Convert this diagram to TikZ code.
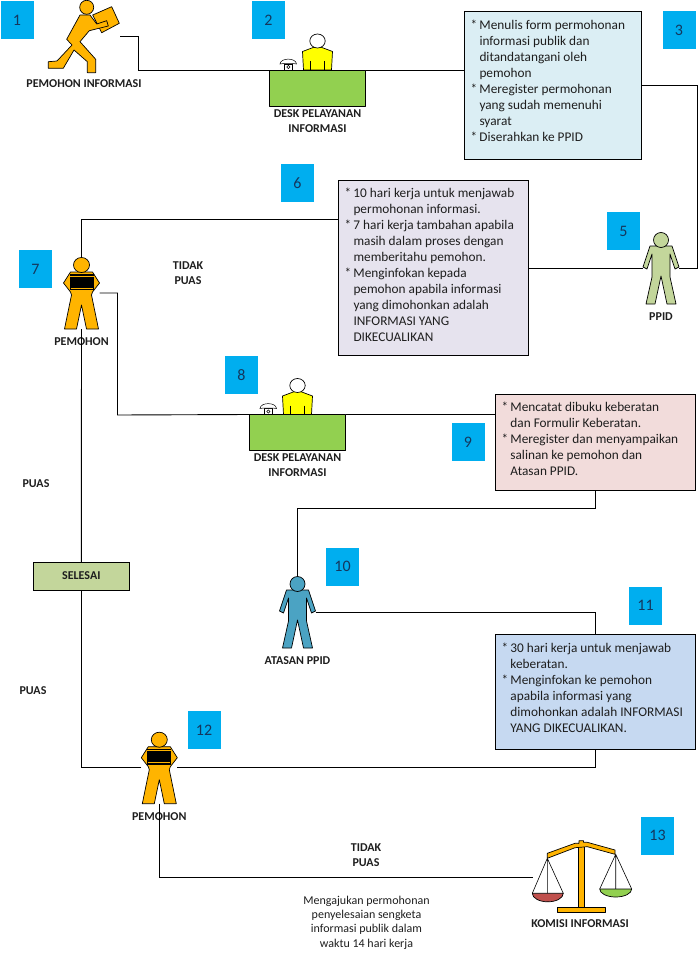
\documentclass[tikz,border=0pt]{standalone}
\usepackage{fontspec}
\setmainfont{Carlito}
\usetikzlibrary{positioning}
\definecolor{tag_fill}{HTML}{00AEEF}
\definecolor{tag_text}{HTML}{14375E}
\definecolor{body_text}{HTML}{1E1E1E}
\definecolor{gold_fill}{HTML}{FFB400}
\definecolor{desk_fill}{HTML}{92D050}
\definecolor{shirt_fill}{HTML}{FFFF00}
\definecolor{ppid_fill}{HTML}{C3D69B}
\definecolor{atasan_fill}{HTML}{4BA3C3}
\definecolor{box3_fill}{HTML}{DBEEF4}
\definecolor{box6_fill}{HTML}{E6E3EE}
\definecolor{box9_fill}{HTML}{F2DCDB}
\definecolor{box11_fill}{HTML}{C6D9F1}
\definecolor{selesai_fill}{HTML}{C3D69B}
\definecolor{pan_red}{HTML}{C0504D}
\begin{document}
\begin{tikzpicture}[
    x=1pt, y=-1pt,
    font=\fontsize{13.3}{16}\selectfont,
    text=body_text,
    link/.style={draw=black, line width=0.9pt},
    outline/.style={draw=black, line width=0.7pt, line join=round},
    tagbox/.style={fill=tag_fill, minimum width=33pt, minimum height=38pt, inner sep=0pt, text=tag_text, font=\fontsize{16}{16}\selectfont},
    infobox/.style={draw=black, line width=0.9pt, inner sep=0pt, outer sep=0pt},
    boxtext/.style={anchor=north west, inner sep=0pt, align=left},
    figure/.style={minimum width=36pt, minimum height=72pt, inner sep=0pt, outer sep=0pt},
    desk/.style={outline, fill=desk_fill, minimum width=96pt, minimum height=36pt, inner sep=0pt, outer sep=0pt},
    caption/.style={align=center, inner sep=0pt, font=\fontsize{12}{15}\selectfont\bfseries},
    note/.style={align=center, inner sep=0pt, font=\fontsize{12}{14.4}\selectfont}
]

\useasboundingbox (0,0) rectangle (698,960);

% --- Shapes used more than once, origin at the centre of the figure ---
\def\plainperson#1{
    \draw[outline, fill=#1] (-11,-22) -- (-18,-1) -- (-14,1) -- (-9,-14) -- (-9,9) -- (-15,36) -- (-6,36)
        -- (0,8) -- (6,36) -- (15,36) -- (9,9) -- (9,-14) -- (14,1) -- (18,-1) -- (11,-22) -- cycle;
    \draw[outline, fill=#1] (0,-28) circle (7.5);
}
\def\bookperson{
    \draw[outline, fill=gold_fill] (-11,-21) -- (-18,-10) -- (-11,-1) -- (-10,2) -- (-17,36) -- (-5,36)
        -- (0,12) -- (5,36) -- (17,36) -- (10,2) -- (11,-1) -- (18,-10) -- (11,-21) -- cycle;
    \draw[outline, fill=gold_fill] (0,-28) ellipse (8 and 7.5);
    \fill[black] (-12,-19) rectangle (12,-3);
    \draw[gold_fill, line width=0.6pt] (-12,-17) -- (12,-17) (-11,-5) -- (11,-5);
}
% origin at the middle of the desk top
\def\deskperson{
    \draw[outline, fill=shirt_fill] (-15,-18.5) -- (-3,-23) -- (3,-23) -- (15,-18.5) -- (14,0) -- (-14,0) -- cycle;
    \draw[black, line width=0.6pt] (-7.5,-9) -- (-7.5,0) (6.5,-9) -- (6.5,0);
    \draw[outline, fill=white] (0,-29) ellipse (7.7 and 7);
    % telephone
    \draw[black, line width=0.5pt, fill=white] (-33.5,-6) rectangle (-25,0);
    \draw[black, line width=0.5pt] (-29.2,-3) circle (1.6);
    \draw[black, line width=0.5pt, fill=white] (-37.5,-6) .. controls (-37,-12.5) and (-21.5,-12.5) .. (-21,-6) -- (-25,-6.5) -- (-33.5,-6.5) -- cycle;
}

% --- Numbered tags ---
\node[tagbox] (tag1) at (17,20) {1};
\node[tagbox] (tag2) at (268.5,20) {2};
\node[tagbox] (tag3) at (679,30.5) {3};
\node[tagbox] (tag5) at (623.5,231) {5};
\node[tagbox] (tag6) at (297.5,183) {6};
\node[tagbox] (tag7) at (35.5,269) {7};
\node[tagbox] (tag8) at (241.5,375) {8};
\node[tagbox] (tag9) at (468,442) {9};
\node[tagbox] (tag10) at (342.5,566.5) {10};
\node[tagbox] (tag11) at (645.5,605.5) {11};
\node[tagbox] (tag12) at (204,730) {12};
\node[tagbox] (tag13) at (657.5,835.5) {13};

% --- Applicant with the parcel ---
\node[figure, minimum width=72pt, minimum height=73pt] (pemohon1) at (84,36) {};
\draw[outline, fill=gold_fill] (92.7,15) -- (111.7,6.7) -- (119.3,23.3) -- (101.7,32.7) -- cycle;
\draw[outline, fill=gold_fill] (80,15) -- (66.7,39.3) -- (72,45) -- (57,61) -- (48.3,61.7) -- (48.3,68.3)
    -- (63.3,68.3) -- (74,50) -- (87.3,61.7) -- (87.3,72.7) -- (95.7,72.7) -- (95.7,59.3) -- (80,41.7)
    -- (89.3,30.7) -- (108.3,26) -- (106.7,20.7) -- (96.7,24) -- (90,15) -- cycle;
\draw[outline, fill=gold_fill] (86.7,7.3) circle (7);
\node[caption] (cap1) at (84,84) {PEMOHON INFORMASI};

% --- Service desks ---
\node[desk] (desk2) at (317.5,88) {};
\begin{scope}[shift={(desk2.north)}]
    \deskperson
\end{scope}
\node[caption, below=3pt of desk2] (cap2) {DESK PELAYANAN\\INFORMASI};

\node[desk] (desk8) at (297.5,432.5) {};
\begin{scope}[shift={(desk8.north)}]
    \deskperson
\end{scope}
\node[caption, below=3pt of desk8] (cap8) {DESK PELAYANAN\\INFORMASI};

% --- People ---
\node[figure] (ppid) at (661,268) {};
\begin{scope}[shift={(ppid.center)}]
    \plainperson{ppid_fill}
\end{scope}
\node[caption, below=8.5pt of ppid] (cap5) {PPID};

\node[figure] (pemohon7) at (81.5,293) {};
\begin{scope}[shift={(pemohon7.center)}]
    \bookperson
\end{scope}
\node[caption, below=8.5pt of pemohon7] (cap7) {PEMOHON};

\node[figure] (atasan) at (297.5,612) {};
\begin{scope}[shift={(atasan.center)}]
    \plainperson{atasan_fill}
\end{scope}
\node[caption, below=8.5pt of atasan] (cap10) {ATASAN PPID};

\node[figure] (pemohon12) at (159.3,767.7) {};
\begin{scope}[shift={(pemohon12.center)}]
    \bookperson
\end{scope}
\node[caption, below=8.5pt of pemohon12] (cap12) {PEMOHON};

% --- Text boxes ---
\node[infobox, fill=box3_fill, minimum width=177.4pt, minimum height=147.6pt] (box3) at (553,85.5) {};
\node[boxtext, below right=8.5pt and 15pt of box3.north west] (text3) {%
    \llap{*\,}Menulis form permohonan\\
    informasi publik dan\\
    ditandatangani oleh\\
    pemohon\\
    \llap{*\,}Meregister permohonan\\
    yang sudah memenuhi\\
    syarat\\
    \llap{*\,}Diserahkan ke PPID};

\node[infobox, fill=box6_fill, minimum width=190.4pt, minimum height=174.7pt] (box6) at (433.5,267.7) {};
\node[boxtext, below right=8pt and 15pt of box6.north west] (text6) {%
    \llap{*\,}10 hari kerja untuk menjawab\\
    permohonan informasi.\\
    \llap{*\,}7 hari kerja tambahan apabila\\
    masih dalam proses dengan\\
    memberitahu pemohon.\\
    \llap{*\,}Menginfokan kepada\\
    pemohon apabila informasi\\
    yang dimohonkan adalah\\
    INFORMASI YANG\\
    DIKECUALIKAN};

\node[infobox, fill=box9_fill, minimum width=200pt, minimum height=96.4pt] (box9) at (595.7,442.5) {};
\node[boxtext, below right=8pt and 14.5pt of box9.north west] (text9) {%
    \llap{*\,}Mencatat dibuku keberatan\\
    dan Formulir Keberatan.\\
    \llap{*\,}Meregister dan menyampaikan\\
    salinan ke pemohon dan\\
    Atasan PPID.};

\node[infobox, fill=box11_fill, minimum width=200pt, minimum height=115pt] (box11) at (595.7,691.8) {};
\node[boxtext, below right=8.5pt and 14.5pt of box11.north west] (text11) {%
    \llap{*\,}30 hari kerja untuk menjawab\\
    keberatan.\\
    \llap{*\,}Menginfokan ke pemohon\\
    apabila informasi yang\\
    dimohonkan adalah INFORMASI\\
    YANG DIKECUALIKAN.};

\node[infobox, fill=selesai_fill, minimum width=96.4pt, minimum height=28pt, font=\fontsize{12}{14.5}\selectfont\bfseries] (selesai) at (81.3,576) {SELESAI};

% --- Scales ---
\node[figure, minimum width=99pt] (komisi) at (582.5,877) {};
\draw[black, line width=0.6pt] (532.3,893.3) -- (547.3,858.3) -- (563.3,893.3) (547.3,858.3) -- (547.3,893.3);
\draw[black, line width=0.6pt] (599.7,889) -- (615.7,854.3) -- (631.7,889) (615.7,854.3) -- (615.7,889);
\draw[outline, fill=pan_red] (532.3,893.3) arc[start angle=180, end angle=360, x radius=15.5, y radius=-8.5] -- cycle;
\draw[outline, fill=desk_fill] (599.7,889) arc[start angle=180, end angle=360, x radius=16, y radius=-8] -- cycle;
\draw[outline, fill=gold_fill] (578,843) rectangle (584.7,907.3);
\draw[outline, fill=gold_fill] (557.3,907.3) rectangle (605.3,912.3);
\draw[outline, fill=gold_fill] (547.3,853.3) -- (575,843.3) -- (579,843.3) -- (579,840.7) -- (583.5,840.7) -- (583.5,842.3) -- (587.3,842.3)
    -- (615,850) -- (615,854.3) -- (587.3,846.7) -- (575,847.7) -- (547.3,858.3) -- cycle;
\node[caption] (cap13) at (580,924) {KOMISI INFORMASI};

% --- Free labels ---
\node[caption] (tidak1) at (188,273) {TIDAK\\PUAS};
\node[caption] (puas1) at (36,484) {PUAS};
\node[caption] (puas2) at (33,691) {PUAS};
\node[caption] (tidak2) at (366,855.5) {TIDAK\\PUAS};
\node[note] (note13) at (366.5,922.5) {Mengajukan permohonan\\penyelesaian sengketa\\informasi publik dalam\\waktu 14 hari kerja};

% --- Connectors ---
\coordinate (bendA) at (138,70);
\coordinate (bendB) at (697.5,268);
\coordinate (bendC) at (81.5,219.5);
\coordinate (bendD) at (117.5,415);
\coordinate (bendE) at (297.5,508.5);
\draw[link] (pemohon1.east) -| (bendA) -- (desk2.north west);
\draw[link] (desk2.north east) -- (desk2.north east -| box3.west);
\draw[link] (box3.east) -| (bendB) -- (ppid.east);
\draw[link] (ppid.west) -- (ppid.west -| box6.east);
\draw[link] (box6.west |- bendC) -- (bendC) -- (pemohon7.north);
\draw[link] (pemohon7.east) -| (bendD) -- (desk8.north west);
\draw[link] (desk8.north east) -- (desk8.north east -| box9.west);
\draw[link] (box9.south) |- (bendE) -- (atasan.north);
\draw[link] (atasan.east) -| (box11.north);
\draw[link] (box11.south) |- (pemohon12.east);
\draw[link] (pemohon12.west) -| (selesai.south);
\draw[link] (selesai.north) -- (pemohon7.south);
\draw[link] (pemohon12.south) |- (komisi.west);

\end{tikzpicture}
\end{document}
